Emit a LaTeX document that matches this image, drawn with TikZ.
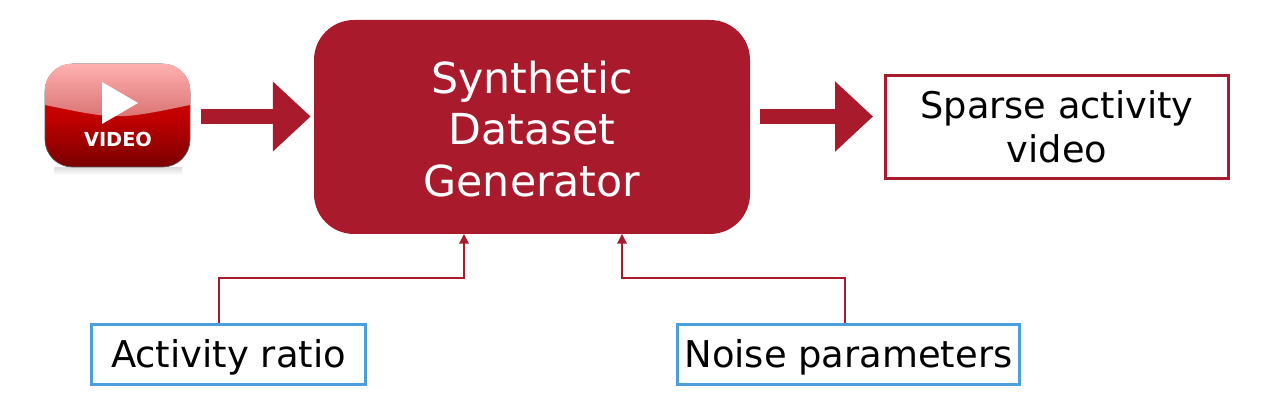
\documentclass[tikz,border=0pt]{standalone}
\usepackage{fontspec}
\setmainfont{DejaVu Sans}
\usepackage{tikz}
\usetikzlibrary{calc, arrows.meta, positioning, shapes}
\definecolor{genred}{HTML}{AA1A2D}
\definecolor{inblue}{HTML}{4A9FDC}
\definecolor{glosstop}{HTML}{FFB0B0}
\definecolor{glossbottom}{HTML}{D87070}
\definecolor{bodytop}{HTML}{C40000}
\definecolor{bodybottom}{HTML}{7A0000}
\begin{document}
\begin{tikzpicture}[auto, >=latex]
		\tikzstyle{generator} = [fill=genred, rounded corners=0.8cm, text=white, align=center, text height=79pt, font=\fontsize{24.3}{29.2}\selectfont]
		\tikzstyle{output} = [draw=genred, line width=1.7pt, rectangle, fill=white, align=center, inner sep=0pt, font=\fontsize{20.9}{25}\selectfont]
		\tikzstyle{input} = [draw=inblue, line width=1.7pt, rectangle, fill=white, align=center, inner sep=0pt, text depth=1pt, font=\fontsize{21}{25}\selectfont]
		\tikzstyle{bigarrow} = [draw=genred, line width=8.5pt, -{Triangle[length=21.5pt, width=38.5pt]}, genred]
		\tikzstyle{thinarrow} = [draw=genred, line width=0.8pt, -{Triangle[length=5.5pt, width=5.5pt]}, genred]
		
		\useasboundingbox (0, 0) rectangle (25.48, -8.06);
		
		\shade[top color=black!12, bottom color=white] (1.08, -3.36) rectangle (3.64, -3.5);
		
		\node[rectangle, rounded corners=0.55cm, minimum width=2.9cm, minimum height=2.06cm, draw=black!65, line width=0.4pt, top color=bodytop, bottom color=bodybottom, middle color=bodytop]	at (2.35, -2.31)	(video)	{};
		\begin{scope}
			\clip[rounded corners=0.55cm] (video.south west) rectangle (video.north east);
			\shade[top color=glosstop, bottom color=glossbottom] (0.9, -1.28) -- (3.8, -1.28) -- (3.8, -2.1) .. controls (2.35, -2.4) .. (0.9, -2.1) -- cycle;
		\end{scope}
		\fill[white] (2.04, -1.64) -- (2.04, -2.48) -- (2.76, -2.06) -- cycle;
		\node[text=white, font=\fontsize{11}{13}\selectfont\bfseries, inner sep=0pt]	at (2.36, -2.78)	(label)	{VIDEO};
		
		\node[generator, minimum width=8.72cm, minimum height=4.28cm]	at (10.64, -2.54)	(gen)	{Synthetic\\Dataset\\Generator};
		\node[output, minimum width=6.86cm, minimum height=2.06cm]	at (21.14, -2.54)	(out)	{Sparse activity\\video};
		\node[input, minimum width=5.48cm, minimum height=1.2cm]	at (4.57, -7.09)	(act)	{Activity ratio};
		\node[input, minimum width=6.84cm, minimum height=1.2cm]	at (16.97, -7.09)	(noise)	{Noise parameters};
		
		\coordinate (flow) at (0, -2.33);
		\coordinate (actin) at (9.28, -4.68);
		\coordinate (noisein) at (12.44, -4.68);
		\coordinate (actout) at (4.38, -6.46);
		\coordinate (noiseout) at (16.9, -6.46);
		
		\draw [bigarrow, shorten <=0.22cm, shorten >=0.06cm] (video.east |- flow) -- (gen.west |- flow);
		\draw [bigarrow, shorten <=0.2cm, shorten >=0.22cm] (gen.east |- flow) -- (out.west |- flow);
		
		\draw [thinarrow] (actout) |- (5, -5.56) -| (actin);
		\draw [thinarrow] (noiseout) |- (14, -5.56) -| (noisein);
	\end{tikzpicture}
\end{document}
